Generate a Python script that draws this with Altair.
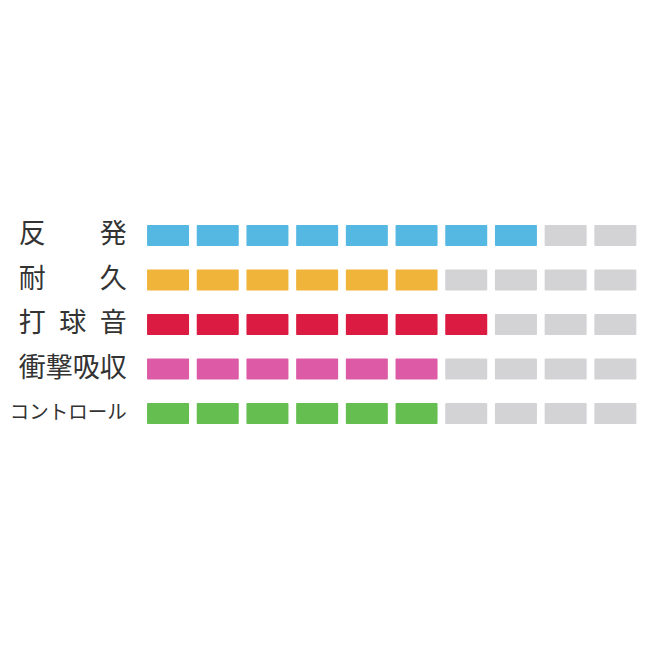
import altair as alt
import pandas as pd

# Data
display_labels = ["反　　発", "耐　　久", "打\u2002球\u2002音", "衝撃吸収", "コントロール"]
scores = [8, 6, 7, 6, 6]
max_score = 10
colors = ["#55b8e2", "#f0b43a", "#dc1b42", "#dc5aa6", "#64be50"]
empty_color = "#d3d3d6"

rows = []
for lab, s in zip(display_labels, scores):
    for i in range(1, max_score + 1):
        rows.append({"item": lab, "cell": i, "key": lab if i <= s else "empty"})
df = pd.DataFrame(rows)

chart = (
    alt.Chart(df)
    .mark_rect(cornerRadius=1)
    .encode(
        x=alt.X(
            "cell:O",
            scale=alt.Scale(paddingInner=0.155, paddingOuter=0.0775),
            axis=None,
        ),
        y=alt.Y(
            "item:N",
            sort=display_labels,
            scale=alt.Scale(domain=display_labels, paddingInner=0.528, paddingOuter=0.264),
            axis=alt.Axis(
                title=None,
                domain=False,
                ticks=False,
                labelPadding=17,
                labelFont="Noto Sans CJK JP",
                labelFontSize=27,
                labelColor="#333333",
                labelAlign="right",
                labelBaseline="middle",
            ),
        ),
        color=alt.Color(
            "key:N",
            scale=alt.Scale(domain=display_labels + ["empty"], range=colors + [empty_color]),
            legend=None,
        ),
    )
    .properties(
        width=497,
        height=222.5,
        autosize=alt.AutoSizeParams(type="none"),
        padding={"left": 135.2, "top": 205.25, "right": 0, "bottom": 0},
        background="white",
    )
    .configure_view(stroke=None)
)

# Per-label font size: smaller for the long katakana label
spec = chart.to_dict()
spec["encoding"]["y"]["axis"]["labelFontSize"] = {
    "condition": {"test": "datum.value == 'コントロール'", "value": 19.5},
    "value": 27,
}
chart = alt.Chart.from_dict(spec)

chart.save("out.html", embed_options={"renderer": "svg", "actions": False})
